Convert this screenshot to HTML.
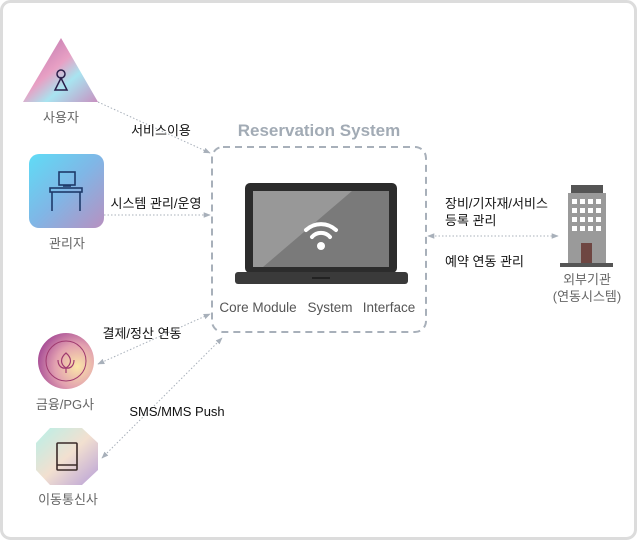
<!DOCTYPE html>
<html><head><meta charset="utf-8"><style>
html,body{margin:0;padding:0;background:#fff}
svg{display:block}
text{font-family:"Liberation Sans","Noto Sans CJK KR",sans-serif}
</style></head><body>
<svg width="637" height="540" viewBox="0 0 637 540" xmlns="http://www.w3.org/2000/svg">
<defs>
<linearGradient id="tri" x1="0" y1="0" x2="1" y2="1">
<stop offset="0" stop-color="#b06aa8"/><stop offset="0.45" stop-color="#e8a0c4"/><stop offset="0.65" stop-color="#a8e4f0"/><stop offset="1" stop-color="#c890c0"/></linearGradient>
<linearGradient id="adm" x1="0" y1="0" x2="1" y2="1">
<stop offset="0" stop-color="#5fdcf6"/><stop offset="0.5" stop-color="#80b6e6"/><stop offset="1" stop-color="#b890c0"/></linearGradient>
<radialGradient id="pg" cx="0.7" cy="0.6" r="0.8">
<stop offset="0" stop-color="#fbe6a8"/><stop offset="0.5" stop-color="#e2a0b0"/><stop offset="1" stop-color="#9a3a90"/></radialGradient>
<linearGradient id="oct" x1="0" y1="0" x2="1" y2="1">
<stop offset="0" stop-color="#b8f0e8"/><stop offset="0.5" stop-color="#f2e0d0"/><stop offset="1" stop-color="#b8a0d8"/></linearGradient>
<marker id="ah" viewBox="0 0 10 10" refX="9" refY="5" markerWidth="7" markerHeight="7" orient="auto-start-reverse"><path d="M0,1 L10,5 L0,9 z" fill="#a8b0ba"/></marker>
</defs>
<rect x="1.5" y="1.5" width="634" height="537" rx="9" fill="#fff" stroke="#dcdcdc" stroke-width="3"/>

<g stroke="#a8b0ba" stroke-width="1" stroke-dasharray="1.5,2" fill="none">
<line x1="98" y1="102" x2="210" y2="153" marker-end="url(#ah)"/>
<line x1="104" y1="215" x2="210" y2="215" marker-end="url(#ah)"/>
<line x1="98" y1="364" x2="210" y2="314" marker-start="url(#ah)" marker-end="url(#ah)"/>
<line x1="102" y1="458" x2="222" y2="338" marker-start="url(#ah)" marker-end="url(#ah)"/>
<line x1="428" y1="236" x2="558" y2="236" marker-start="url(#ah)" marker-end="url(#ah)"/>
</g>

<rect x="212" y="147" width="214" height="185" rx="11" fill="none" stroke="#a8b0ba" stroke-width="2" stroke-dasharray="7,5"/>
<text x="319" y="136" text-anchor="middle" font-size="17" font-weight="bold" fill="#a2abb5">Reservation System</text>

<rect x="245" y="183" width="152" height="90" rx="5" fill="#2c2c2c"/>
<path d="M253 191 H389 V267 H253 Z" fill="#7a7a7a"/>
<path d="M253 191 H352 L263 267 H253 Z" fill="#989898"/>
<rect x="235" y="272" width="173" height="12" rx="3" fill="#3a3a3a"/>
<rect x="281" y="268" width="80" height="4" fill="#2c2c2c"/>
<rect x="312" y="277" width="18" height="2" fill="#222"/>
<g fill="none" stroke="#fff" stroke-width="4" stroke-linecap="round">
<path d="M306 230 A22 22 0 0 1 336 230"/>
<path d="M312 237 A12 12 0 0 1 330 237"/>
</g>
<circle cx="321" cy="246" r="4" fill="#fff"/>
<text x="258" y="312" text-anchor="middle" font-size="13.5" fill="#555">Core Module</text>
<text x="330" y="312" text-anchor="middle" font-size="13.5" fill="#555">System</text>
<text x="389" y="312" text-anchor="middle" font-size="13.5" fill="#555">Interface</text>

<path d="M61 38 L98 102 H23 Z" fill="url(#tri)"/>
<circle cx="61" cy="74" r="4" fill="none" stroke="#2a1f4a" stroke-width="1.5"/>
<path d="M61 78 L55 90 H67 Z" fill="none" stroke="#2a1f4a" stroke-width="1.5"/>
<text x="61" y="122" text-anchor="middle" font-size="13" fill="#666">사용자</text>
<text x="161" y="135" text-anchor="middle" font-size="13" fill="#111">서비스이용</text>

<rect x="29" y="154" width="75" height="74" rx="10" fill="url(#adm)"/>
<g fill="none" stroke="#1e3a6a" stroke-width="1.6">
<rect x="59" y="172" width="16" height="13"/>
<line x1="63" y1="186" x2="71" y2="186"/>
<rect x="50" y="188" width="32" height="4"/>
<line x1="52" y1="192" x2="52" y2="211"/><line x1="80" y1="192" x2="80" y2="211"/>
</g>
<text x="67" y="248" text-anchor="middle" font-size="13" fill="#666">관리자</text>
<text x="156" y="208" text-anchor="middle" font-size="13" fill="#111">시스템 관리/운영</text>

<circle cx="66" cy="361" r="28" fill="url(#pg)"/>
<circle cx="66" cy="361" r="20" fill="none" stroke="#a03a70" stroke-width="1"/>
<path d="M66 353 C60 358 60 364 66 368 C72 364 72 358 66 353 Z M58 360 C58 366 62 369 66 368 M74 360 C74 366 70 369 66 368 M66 368 V373" fill="none" stroke="#a03a70" stroke-width="1.2"/>
<text x="65" y="409" text-anchor="middle" font-size="13" fill="#666">금융/PG사</text>
<text x="142" y="338" text-anchor="middle" font-size="13" fill="#111">결제/정산 연동</text>

<path d="M50 428 H82 L98 443 V470 L82 485 H50 L36 470 V443 Z" fill="url(#oct)"/>
<rect x="57" y="443" width="20" height="27" rx="1" fill="none" stroke="#3a2a28" stroke-width="1.6"/>
<line x1="57" y1="465" x2="77" y2="465" stroke="#3a2a28" stroke-width="1.4"/>
<text x="68" y="504" text-anchor="middle" font-size="13" fill="#666">이동통신사</text>
<text x="177" y="416" text-anchor="middle" font-size="13" fill="#111">SMS/MMS Push</text>

<rect x="571" y="185" width="32" height="8" fill="#555"/>
<rect x="568" y="193" width="38" height="70" fill="#9a9a9a"/>
<g fill="#fff">
<rect x="572" y="199" width="5" height="5"/><rect x="580" y="199" width="5" height="5"/><rect x="588" y="199" width="5" height="5"/><rect x="596" y="199" width="5" height="5"/>
<rect x="572" y="208" width="5" height="5"/><rect x="580" y="208" width="5" height="5"/><rect x="588" y="208" width="5" height="5"/><rect x="596" y="208" width="5" height="5"/>
<rect x="572" y="217" width="5" height="5"/><rect x="580" y="217" width="5" height="5"/><rect x="588" y="217" width="5" height="5"/><rect x="596" y="217" width="5" height="5"/>
<rect x="572" y="226" width="5" height="5"/><rect x="580" y="226" width="5" height="5"/><rect x="588" y="226" width="5" height="5"/><rect x="596" y="226" width="5" height="5"/>
</g>
<rect x="581" y="243" width="11" height="20" fill="#6e4642"/>
<rect x="560" y="263" width="53" height="4" fill="#555"/>
<text x="587" y="284" text-anchor="middle" font-size="13" fill="#666">외부기관</text>
<text x="587" y="301" text-anchor="middle" font-size="13" fill="#666">(연동시스템)</text>
<text x="445" y="208" font-size="13" fill="#111">장비/기자재/서비스</text>
<text x="445" y="225" font-size="13" fill="#111">등록 관리</text>
<text x="445" y="266" font-size="13" fill="#111">예약 연동 관리</text>
</svg>
</body></html>
